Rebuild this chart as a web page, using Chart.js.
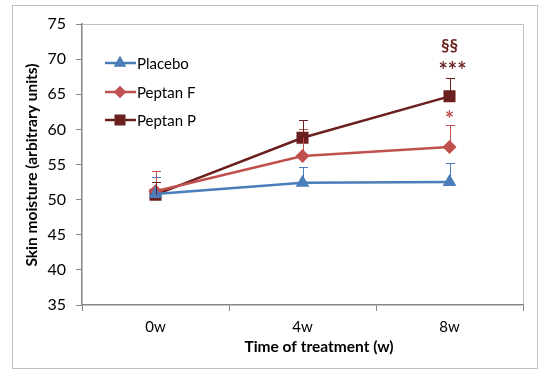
<!DOCTYPE html>
<html><head><meta charset="utf-8">
<script src="https://cdn.jsdelivr.net/npm/chart.js@4/dist/chart.umd.min.js"></script>
<style>html,body{margin:0;padding:0;background:#fff}#wrap{width:560px;height:375px;position:relative}</style>
</head><body><div id="wrap"><canvas id="c"></canvas></div>
<script>
const categories = ['0w','4w','8w'];
const placebo = [50.8, 52.4, 52.5];
const peptanF = [51.2, 56.2, 57.5];
const peptanP = [50.7, 58.8, 64.7];
const placeboErrTop = [53.2, 54.6, 55.2];
const peptanFErrTop = [54.1, 60.1, 60.6];
const peptanPErrTop = [52.5, 61.4, 67.3];
const yTicks = [35,40,45,50,55,60,65,70,75];
const seriesNames = ['Placebo','Peptan F','Peptan P'];
const xTitle = 'Time of treatment (w)';
const yTitle = 'Skin moisture (arbitrary units)';
const annotations = [ // [category index, value position, text, series]
  [2, 72.0, '§§', 2],
  [2, 68.3, '***', 2],
  [2, 61.4, '*', 1]
];
const colors = ['#4A7EBB', '#C0504D', '#6B1F1F'];
const FONT = 'Lato, "Open Sans", sans-serif';

const errTops = [placeboErrTop, peptanFErrTop, peptanPErrTop];
const styles = ['triangle','rectRot','rect'];
const radii = [8, 7, 8.5];

const extras = {
  id: 'extras',
  beforeDraw(chart) {
    const ctx = chart.ctx, a = chart.chartArea;
    ctx.save();
    ctx.strokeStyle = '#BFBFBF'; ctx.lineWidth = 1;
    ctx.strokeRect(12.5, 5.5, 525, 363);
    ctx.beginPath();
    ctx.moveTo(a.left, a.top + 0.5); ctx.lineTo(a.right + 0.5, a.top + 0.5); ctx.lineTo(a.right + 0.5, a.bottom);
    ctx.stroke();
    ctx.restore();
  },
  afterDatasetsDraw(chart) {
    const ctx = chart.ctx, xs = chart.scales.x, ys = chart.scales.y, a = chart.chartArea;
    ctx.save();
    // error bars
    chart.data.datasets.forEach((ds, i) => {
      ctx.strokeStyle = colors[i]; ctx.lineWidth = 1;
      ds.data.forEach((v, j) => {
        const x = Math.round(xs.getPixelForValue(j)) + 0.5;
        const y0 = ys.getPixelForValue(v), y1 = Math.round(ys.getPixelForValue(errTops[i][j])) + 0.5;
        ctx.beginPath();
        ctx.moveTo(x, y0); ctx.lineTo(x, y1);
        ctx.moveTo(x - 4.5, y1); ctx.lineTo(x + 4.5, y1);
        ctx.stroke();
      });
    });
    // annotations
    ctx.textAlign = 'center'; ctx.textBaseline = 'middle';
    annotations.forEach(([ci, v, t, s]) => {
      ctx.fillStyle = colors[s];
      const star = t.indexOf('*') >= 0;
      ctx.font = 'bold ' + (star ? 22 : 17) + 'px ' + FONT;
      if ('letterSpacing' in ctx) ctx.letterSpacing = (t.length > 2 ? '0px' : '0px');
      ctx.fillText(t, xs.getPixelForValue(ci) + (t === '***' ? 3 : 0), ys.getPixelForValue(v));
    });
    // legend
    const ly = [63, 92, 120];
    seriesNames.forEach((n, i) => {
      ctx.strokeStyle = colors[i]; ctx.lineWidth = 2.5;
      ctx.beginPath(); ctx.moveTo(105, ly[i]); ctx.lineTo(136, ly[i]); ctx.stroke();
      ctx.fillStyle = colors[i];
      Chart.helpers.drawPoint(ctx, {pointStyle: styles[i], radius: radii[i] - 1, borderWidth: 0}, 120, ly[i]);
      ctx.fill();
      ctx.fillStyle = '#000'; ctx.font = '15px ' + FONT;
      ctx.textAlign = 'left'; ctx.textBaseline = 'middle';
      ctx.fillText(n, 137, ly[i] + 1);
    });
    // axis titles
    ctx.fillStyle = '#000'; ctx.font = 'bold 15.5px ' + FONT;
    ctx.textAlign = 'center'; ctx.textBaseline = 'middle';
    ctx.fillText(xTitle, 319, 347);
    ctx.translate(32, (a.top + a.bottom) / 2 + 0.5);
    ctx.rotate(-Math.PI / 2);
    ctx.fillText(yTitle, 0, 0);
    ctx.restore();
  }
};

const mk = (label, data, i) => ({
  label, data,
  borderColor: colors[i], backgroundColor: colors[i],
  borderWidth: 2.5, pointStyle: styles[i], pointRadius: radii[i],
  pointBorderWidth: 0, pointBackgroundColor: colors[i], tension: 0
});

new Chart(document.getElementById('c'), {
  type: 'line',
  data: {
    labels: categories,
    datasets: [mk(seriesNames[0], placebo, 0), mk(seriesNames[1], peptanF, 1), mk(seriesNames[2], peptanP, 2)]
  },
  options: {
    responsive: true, maintainAspectRatio: false, animation: false,
    layout: { padding: { left: 12, top: 24, right: 37, bottom: 0 } },
    plugins: { legend: { display: false }, tooltip: { enabled: false } },
    scales: {
      x: {
        type: 'category', offset: true,
        grid: { offset: true, drawOnChartArea: false, tickLength: 6, color: '#868686' },
        border: { color: '#868686', width: 1.5 },
        ticks: { color: '#000', font: { family: FONT, size: 15 }, padding: 7 },
        afterFit(s) { s.height = 70; }
      },
      y: {
        min: 35, max: 75,
        afterBuildTicks(s) { s.ticks = yTicks.map(v => ({ value: v })); },
        grid: { drawOnChartArea: false, tickLength: 6, color: '#868686' },
        border: { color: '#868686', width: 1.5 },
        ticks: { color: '#000', font: { family: FONT, size: 16 }, padding: 10 },
        afterFit(s) { s.width = 70; }
      }
    }
  },
  plugins: [extras]
});
</script></body></html>
